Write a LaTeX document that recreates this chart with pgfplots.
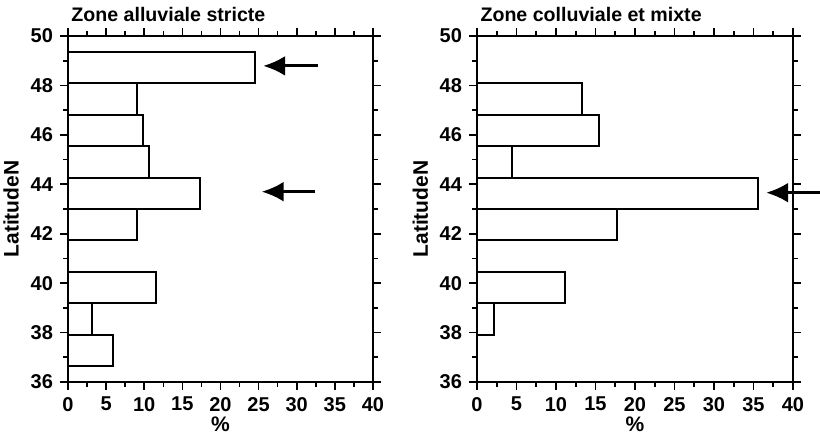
\documentclass[border=0pt]{standalone}
\usepackage{fontspec}
\setmainfont{Liberation Sans}
\usepackage{pgfplots}
\pgfplotsset{compat=1.18}
\usetikzlibrary{arrows.meta}
\tikzset{arr/.style={line width=1.5pt, -{Latex[length=11pt,width=10pt]}}}
\pgfplotsset{
  zone/.style={
    scale only axis, height=173pt,
    xmin=0,xmax=40,ymin=36,ymax=50,
    xtick={0,5,...,40}, minor x tick num=1,
    ytick={36,38,...,50}, minor y tick num=1,
    tick align=outside, tick pos=both,
    major tick length=4pt, minor tick length=2.5pt,
    axis line style={line width=1pt},
    every tick/.style={line width=0.8pt,black},
    /pgf/number format/assume math mode=true,
    ticklabel style={font=\bfseries\fontsize{10}{12}\selectfont},
    xlabel={\%}, ylabel={LatitudeN},
    label style={font=\bfseries\fontsize{10.5}{12}\selectfont},
    xlabel style={yshift=4pt},
    ylabel style={yshift=-1pt},
    clip=false,
  },
  bars/.style={xbar interval, fill=white, draw=black, line width=1pt},
}
\begin{document}
\begin{tikzpicture}
\useasboundingbox (0,0) rectangle (410pt,219pt);
% left panel
\begin{axis}[zone, width=152.5pt, at={(34pt,28pt)}, anchor=south west]
\addplot[bars] coordinates {
(5.9,36.65) (3.2,37.92) (11.5,39.19) (0,40.46) (9.1,41.73) (17.3,43.0)
(10.6,44.27) (9.9,45.54) (9.0,46.81) (24.5,48.08) (24.5,49.35)};
\node[anchor=base west, font=\bfseries\fontsize{9.8}{11}\selectfont, inner sep=0pt]
  at (rel axis cs:0.01,1) [yshift=7pt] {Zone alluviale stricte};
\draw[arr] (axis cs:32.8,48.79) -- (axis cs:25.6,48.79);
\draw[arr] (axis cs:32.4,43.7) -- (axis cs:25.4,43.7);
\end{axis}
% right panel
\begin{axis}[zone, width=158pt, at={(238.5pt,28pt)}, anchor=south west]
\addplot[bars] coordinates {
(0,36.65) (2.2,37.92) (11.2,39.19) (0,40.46) (17.7,41.73) (35.6,43.0)
(4.4,44.27) (15.5,45.54) (13.3,46.81) (0,48.08) (0,49.35)};
\node[anchor=base west, font=\bfseries\fontsize{9.8}{11}\selectfont, inner sep=0pt]
  at (rel axis cs:0.01,1) [yshift=7pt] {Zone colluviale et mixte};
\draw[arr] (axis cs:43.5,43.66) -- (axis cs:36.6,43.66);
\end{axis}
\end{tikzpicture}
\end{document}
